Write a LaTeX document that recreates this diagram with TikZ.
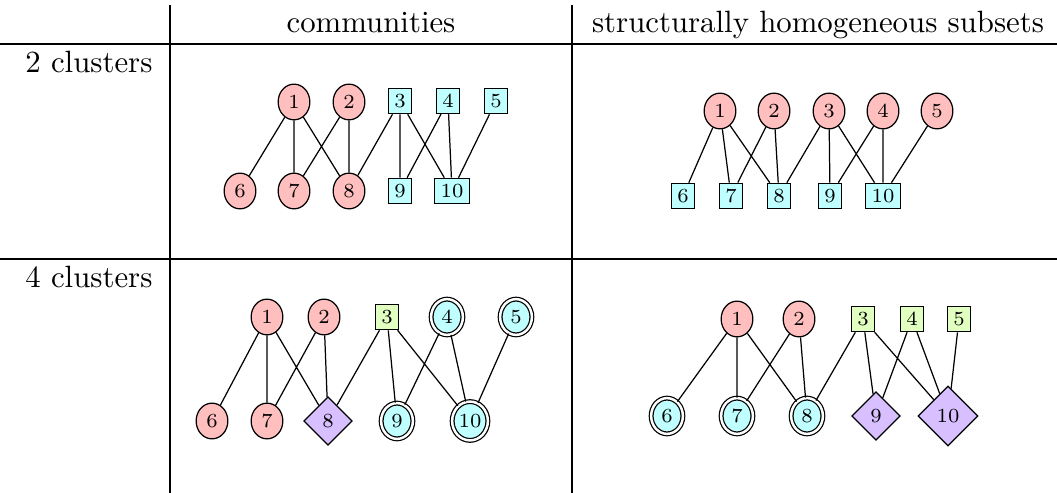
\documentclass[tikz,border=0pt]{standalone}
\usepackage{tikz}
\usetikzlibrary{shapes.geometric}

\definecolor{pinkfill}{RGB}{255,191,191}
\definecolor{cyanfill}{RGB}{191,255,255}
\definecolor{limefill}{RGB}{225,255,192}
\definecolor{lilacfill}{RGB}{216,191,255}

\tikzset{
  vtx/.style={draw, line width=0.4pt, font=\fontsize{6.5}{7}\selectfont},
  circ/.style={vtx, ellipse, inner sep=0pt, minimum width=10.3pt, minimum height=11.6pt},
  sq/.style={vtx, rectangle, inner sep=1.9pt},
  dia/.style={vtx, diamond, inner sep=1.9pt},
  dbl/.style={double, double distance=0.8pt},
  wide/.style={minimum width=11.6pt, minimum height=12.6pt},
  rednode/.style={fill=pinkfill},
  bluenode/.style={fill=cyanfill},
  greennode/.style={fill=limefill},
  violetnode/.style={fill=lilacfill}
}

\begin{document}
\begin{tikzpicture}[x=0.3247pt, y=-0.3247pt]
  \useasboundingbox (0,0) rectangle (1057,493);

  % 表格线
  \draw[line width=0.4pt] (0,44) -- (1057,44);
  \draw[line width=0.4pt] (0,259) -- (1057,259);
  \draw[line width=0.4pt] (170,5) -- (170,493);
  \draw[line width=0.4pt] (572,5) -- (572,493);

  % 表头
  \node[anchor=base] (hcomm) at (371,33) {communities};
  \node[anchor=base] (hstruct) at (818,33) {structurally homogeneous subsets};
  \node[anchor=base east, inner sep=0pt] (row2) at (153,73) {2 clusters};
  \node[anchor=base east, inner sep=0pt] (row4) at (153,288) {4 clusters};

  % 2 clusters, communities
  \node[circ, rednode] (a1) at (294,102) {1};
  \node[circ, rednode] (a2) at (349,102) {2};
  \node[sq, bluenode] (a3) at (400,101) {3};
  \node[sq, bluenode] (a4) at (448,101) {4};
  \node[sq, bluenode] (a5) at (496,101) {5};
  \node[circ, rednode] (a6) at (240,191) {6};
  \node[circ, rednode] (a7) at (294,191) {7};
  \node[circ, rednode] (a8) at (349,191) {8};
  \node[sq, bluenode] (a9) at (400,191) {9};
  \node[sq, bluenode] (a10) at (452,191) {10};
  \draw (a1) -- (a6) (a1) -- (a7) (a1) -- (a8) (a2) -- (a7) (a2) -- (a8) (a3) -- (a8);
  \draw (a3) -- (a9) (a3) -- (a10) (a4) -- (a9) (a4) -- (a10) (a5) -- (a10);

  % 2 clusters, structurally homogeneous subsets
  \node[circ, rednode] (b1) at (720,111) {1};
  \node[circ, rednode] (b2) at (774,111) {2};
  \node[circ, rednode] (b3) at (829,111) {3};
  \node[circ, rednode] (b4) at (883,111) {4};
  \node[circ, rednode] (b5) at (937,111) {5};
  \node[sq, bluenode] (b6) at (683,196) {6};
  \node[sq, bluenode] (b7) at (731,196) {7};
  \node[sq, bluenode] (b8) at (779,196) {8};
  \node[sq, bluenode] (b9) at (830,196) {9};
  \node[sq, bluenode] (b10) at (883,196) {10};
  \draw (b1) -- (b6) (b1) -- (b7) (b1) -- (b8) (b2) -- (b7) (b2) -- (b8) (b3) -- (b8);
  \draw (b3) -- (b9) (b3) -- (b10) (b4) -- (b9) (b4) -- (b10) (b5) -- (b10);

  % 4 clusters, communities
  \node[circ, rednode] (c1) at (267,317) {1};
  \node[circ, rednode] (c2) at (324,317) {2};
  \node[sq, greennode] (c3) at (387,317) {3};
  \node[circ, dbl, bluenode] (c4) at (447,317) {4};
  \node[circ, dbl, bluenode] (c5) at (516,317) {5};
  \node[circ, rednode] (c6) at (212,421) {6};
  \node[circ, rednode] (c7) at (267,421) {7};
  \node[dia, violetnode] (c8) at (328,421) {8};
  \node[circ, dbl, bluenode] (c9) at (397,421) {9};
  \node[circ, dbl, wide, bluenode] (c10) at (470,421) {10};
  \draw (c1) -- (c6) (c1) -- (c7) (c1) -- (c8) (c2) -- (c7) (c2) -- (c8) (c3) -- (c8);
  \draw (c3) -- (c9) (c3) -- (c10) (c4) -- (c9) (c4) -- (c10) (c5) -- (c10);

  % 4 clusters, structurally homogeneous subsets
  \node[circ, rednode] (d1) at (737,319) {1};
  \node[circ, rednode] (d2) at (799,319) {2};
  \node[sq, greennode] (d3) at (863,319) {3};
  \node[sq, greennode] (d4) at (912,319) {4};
  \node[sq, greennode] (d5) at (959,319) {5};
  \node[circ, dbl, bluenode] (d6) at (667,416) {6};
  \node[circ, dbl, bluenode] (d7) at (737,416) {7};
  \node[circ, dbl, bluenode] (d8) at (807,416) {8};
  \node[dia, violetnode] (d9) at (876,416) {9};
  \node[dia, violetnode] (d10) at (948,416) {10};
  \draw (d1) -- (d6) (d1) -- (d7) (d1) -- (d8) (d2) -- (d7) (d2) -- (d8) (d3) -- (d8);
  \draw (d3) -- (d9) (d3) -- (d10) (d4) -- (d9) (d4) -- (d10) (d5) -- (d10);
\end{tikzpicture}
\end{document}
